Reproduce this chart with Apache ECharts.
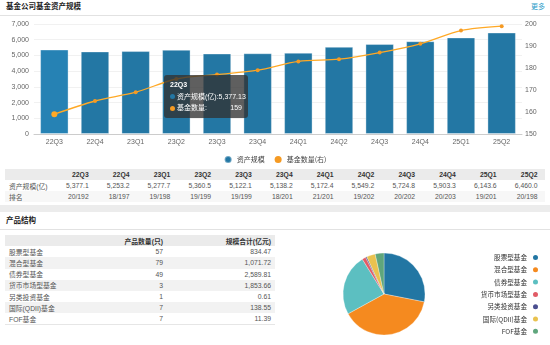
<!DOCTYPE html>
<html>
<head>
<meta charset="utf-8">
<script src="https://cdn.jsdelivr.net/npm/echarts@6/dist/echarts.min.js"></script>
<style>
  html, body { margin:0; padding:0; background:#fff; }
  body { width:550px; height:345px; position:relative; overflow:hidden;
         font-family:"Liberation Sans","Noto Sans CJK SC",sans-serif; color:#444; }
  .title { position:absolute; left:6px; font-weight:bold; font-size:7.5px; color:#222; line-height:10px; }
  .more { position:absolute; right:5px; top:2px; font-size:7px; color:#2b9cc9; line-height:10px; }
  .hline { position:absolute; left:0; width:550px; height:1px; background:#e2e2e2; }
  .band { position:absolute; left:0; width:550px; background:#ececec; }
  table { position:absolute; border-collapse:collapse; table-layout:fixed; font-size:6.8px; }
  td, th { padding:0; white-space:nowrap; overflow:visible; }
  th { font-weight:bold; color:#333; background:#ebebeb; }
  #t1 { left:5px; top:169px; width:540px; }
  #t1 tr { height:11px; }
  #t1 td, #t1 th { text-align:right; padding-right:7.5px; }
  #t1 td:first-child, #t1 th:first-child { text-align:left; padding-left:4px; padding-right:0; }
  #t1 tr.alt td { background:#f7f7f7; }
  #t2 { left:5px; top:235px; width:270px; }
  #t2 tr { height:11.2px; }
  #t2 td, #t2 th { text-align:right; padding-right:4px; }
  #t2 td:first-child, #t2 th:first-child { text-align:left; padding-left:4px; }
  #t2 tr.alt td { background:#f2f2f2; }
  #t2 tr:last-child td { border-bottom:1px solid #e6e6e6; }
  td { color:#555; }
</style>
</head>
<body>
<div class="title" style="top:2px;">基金公司基金资产规模</div>
<div class="more">更多</div>
<div class="hline" style="top:15px;"></div>
<div id="c1" style="position:absolute;left:0;top:0;width:550px;height:165px;"></div>
<table id="t1"></table>
<div class="band" style="top:205px;height:7px;"></div>
<div class="title" style="top:216px;">产品结构</div>
<div class="hline" style="top:229px;"></div>
<table id="t2"></table>
<div id="c2" style="position:absolute;left:275px;top:230px;width:275px;height:150px;"></div>
<script>
// ---------- data ----------
const quarters = ['22Q3','22Q4','23Q1','23Q2','23Q3','23Q4','24Q1','24Q2','24Q3','24Q4','25Q1','25Q2'];
const assetScale = [5377.13, 5253.2, 5277.7, 5360.5, 5122.1, 5138.2, 5172.4, 5549.2, 5724.8, 5903.3, 6143.6, 6460.0];
const fundCount = [159, 165, 169, 175, 177, 179, 183, 184, 187, 191, 197, 199];
const rankings = ['20/192','18/197','19/198','19/199','19/199','18/201','21/201','19/202','20/202','20/203','19/201','20/198'];
const productTypes = ['股票型基金','混合型基金','债券型基金','货币市场型基金','另类投资基金','国际(QDII)基金','FOF基金'];
const productCounts = [57, 79, 49, 3, 1, 7, 7];
const productScale = [834.47, 1071.72, 2589.81, 1853.66, 0.61, 138.55, 11.39];
const seriesNames = ['资产规模', '基金数量(右)'];
const pieColors = ['#2276a3','#f58a1f','#5cbfc1','#e15b66','#4b4f90','#e9c24f','#5fa67c'];

const fmt = (v, d) => v.toLocaleString('en-US', {minimumFractionDigits:d, maximumFractionDigits:d});

// ---------- tables ----------
let h1 = '<tr><th></th>' + quarters.map(q => '<th>' + q + '</th>').join('') + '</tr>';
h1 += '<tr><td>资产规模(亿)</td>' + assetScale.map(v => '<td>' + fmt(v,1) + '</td>').join('') + '</tr>';
h1 += '<tr class="alt"><td>排名</td>' + rankings.map(v => '<td>' + v + '</td>').join('') + '</tr>';
document.getElementById('t1').innerHTML = '<colgroup><col style="width:50.4px">' + quarters.map(() => '<col style="width:40.8px">').join('') + '</colgroup>' + h1;

let h2 = '<colgroup><col style="width:110px"><col style="width:52px"><col style="width:108px"></colgroup>';
h2 += '<tr><th></th><th>产品数量(只)</th><th>规模合计(亿元)</th></tr>';
productTypes.forEach((t, i) => {
  h2 += '<tr' + (i % 2 === 1 ? ' class="alt"' : '') + '><td>' + t + '</td><td>' + productCounts[i] + '</td><td>' + fmt(productScale[i],2) + '</td></tr>';
});
document.getElementById('t2').innerHTML = h2;

// ---------- bar + line chart ----------
const c1 = echarts.init(document.getElementById('c1'));
const axisFont = { fontSize:7, color:'#666', fontFamily:'Liberation Sans' };
c1.setOption({
  animation:false,
  grid:{ left:34, right:28, top:24, bottom:31 },
  legend:{ data:seriesNames, top:150, left:'center', itemWidth:7, itemHeight:7, itemGap:10, icon:'circle',
           textStyle:{ fontSize:7, color:'#444', fontFamily:'Noto Sans CJK SC' } },
  tooltip:{
    trigger:'axis', triggerOn:'none', alwaysShowContent:true, transitionDuration:0,
    axisPointer:{ type:'none' },
    backgroundColor:'rgba(50,50,50,0.78)', borderWidth:0, padding:[4,6],
    extraCssText:'border-radius:3px;box-shadow:none;width:72px;',
    textStyle:{ color:'#fff', fontSize:7 },
    position:[164, 75],
    formatter:function(params){
      const i = params[0].dataIndex;
      const dot = c => '<span style="display:inline-block;width:5px;height:5px;border-radius:50%;background:'+c+';margin-right:2px;vertical-align:middle"></span>';
      return '<div style="font-family:Liberation Sans,Noto Sans CJK SC;font-size:7px;line-height:11.5px;color:#fff">'
        + '<div style="font-weight:bold">' + quarters[i] + '</div>'
        + '<div>' + dot('#2377a4') + '资产规模(亿):' + fmt(assetScale[i],2) + '</div>'
        + '<div>' + dot('#f59a23') + '基金数量:<span style="float:right">' + fundCount[i] + '</span></div></div>';
    }
  },
  xAxis:{ type:'category', data:quarters,
          axisLine:{ lineStyle:{ color:'#ccc' } }, axisTick:{ show:false },
          axisLabel:{ ...axisFont, margin:5 } },
  yAxis:[
    { type:'value', min:0, max:7000, interval:1000,
      axisLabel:{ ...axisFont, margin:5, formatter:v => v.toLocaleString('en-US') },
      splitLine:{ lineStyle:{ color:'#f1f1f1' } }, axisLine:{ show:false }, axisTick:{ show:false } },
    { type:'value', min:150, max:200, interval:10,
      axisLabel:{ ...axisFont, margin:3 },
      splitLine:{ show:false }, axisLine:{ show:false }, axisTick:{ show:false } }
  ],
  series:[
    { name:seriesNames[0], type:'bar', data:assetScale, barWidth:'70%',
      itemStyle:{ color:'#2377a4', borderColor:'rgba(255,255,255,0.35)', borderWidth:1 } },
    { name:seriesNames[1], type:'line', yAxisIndex:1, data:fundCount, smooth:0.3,
      symbol:'circle', symbolSize:4,
      lineStyle:{ color:'#f59a23', width:1.3 }, itemStyle:{ color:'#f59a23' } }
  ]
});
c1.dispatchAction({ type:'showTip', seriesIndex:0, dataIndex:0 });

// ---------- pie ----------
const c2 = echarts.init(document.getElementById('c2'));
c2.setOption({
  animation:false,
  color:pieColors,
  legend:{ orient:'vertical', right:5, top:18, height:120, align:'right', icon:'circle', itemWidth:7, itemHeight:7, itemGap:3.3,
           data:productTypes, textStyle:{ fontSize:6.6, lineHeight:7, color:'#333', fontFamily:'Noto Sans CJK SC', padding:[0,0,0,0] } },
  series:[{ type:'pie', center:[109, 64], radius:41, startAngle:90,
            label:{ show:false }, labelLine:{ show:false },
            itemStyle:{ borderColor:'#fff', borderWidth:0.3 },
            data:productTypes.map((n, i) => ({ name:n, value:productCounts[i] })) }]
});
</script>
</body>
</html>
